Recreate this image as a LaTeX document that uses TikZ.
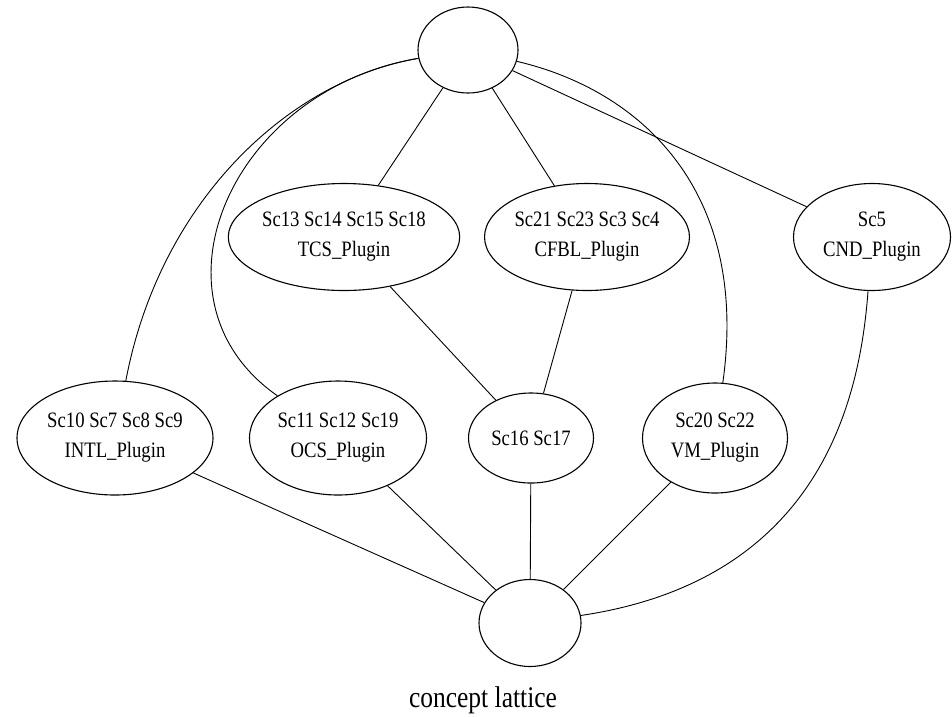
\documentclass[tikz,border=0pt]{standalone}
\usepackage{fontspec}
\setmainfont{Liberation Serif}
\newfontfamily\labfont[FakeStretch=0.85]{Liberation Serif}
\usetikzlibrary{shapes.geometric}
\begin{document}
\begin{tikzpicture}[x=1pt,y=-1pt,
  lat/.style={draw, ellipse, inner sep=0pt, line width=1.1pt, align=center,
    font=\labfont\fontsize{22}{30}\selectfont},
  edge/.style={line width=0.9pt}]
\fill[white] (0,0) rectangle (952,716);
\useasboundingbox (0,0) rectangle (952,716);
\node[lat, minimum width=100pt, minimum height=86pt] (top) at (468,50) {};
\node[lat, minimum width=222pt, minimum height=107pt] (tcs) at (344,237) {Sc13 Sc14 Sc15 Sc18\\TCS\_Plugin};
\node[lat, minimum width=196pt, minimum height=107pt] (cfbl) at (587,237) {Sc21 Sc23 Sc3 Sc4\\CFBL\_Plugin};
\node[lat, minimum width=157pt, minimum height=107pt] (cnd) at (872,237) {Sc5\\CND\_Plugin};
\node[lat, minimum width=196pt, minimum height=114pt] (intl) at (115,438) {Sc10 Sc7 Sc8 Sc9\\INTL\_Plugin};
\node[lat, minimum width=177pt, minimum height=114pt] (ocs) at (338,438) {Sc11 Sc12 Sc19\\OCS\_Plugin};
\node[lat, minimum width=125pt, minimum height=90pt] (sc16) at (531,438) {Sc16 Sc17};
\node[lat, minimum width=145pt, minimum height=110pt] (vm) at (715,438) {Sc20 Sc22\\VM\_Plugin};
\node[lat, minimum width=102pt, minimum height=87pt] (bot) at (530,623) {};
\node[anchor=base, inner sep=0pt, font=\labfont\fontsize{30}{36}\selectfont] (cap) at (483,707) {concept lattice};

\draw[edge] (top) -- (tcs);
\draw[edge] (top) -- (cfbl);
\draw[edge] (top) -- (cnd);
\draw[edge] (top) .. controls (290,80) and (160,200) .. (intl);
\draw[edge] (top) .. controls (230,90) and (140,300) .. (ocs);
\draw[edge] (top) .. controls (640,90) and (750,190) .. (vm);
\draw[edge] (tcs) -- (sc16);
\draw[edge] (cfbl) -- (sc16);
\draw[edge] (intl) -- (bot);
\draw[edge] (ocs) -- (bot);
\draw[edge] (sc16) -- (bot);
\draw[edge] (vm) -- (bot);
\draw[edge] (cnd) .. controls (860,400) and (820,580) .. (bot);
\end{tikzpicture}
\end{document}
